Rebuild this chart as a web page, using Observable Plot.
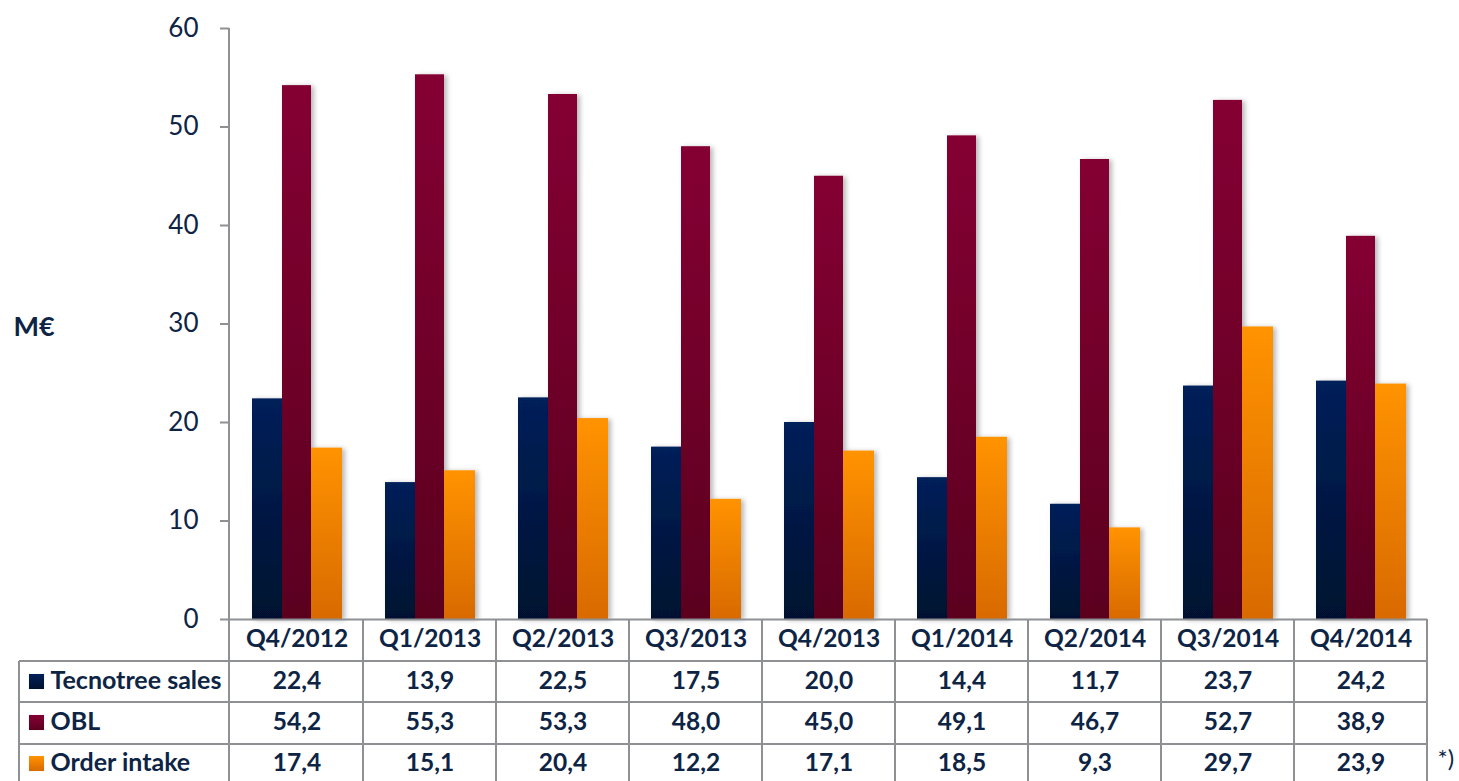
<!DOCTYPE html>
<html><head><meta charset="utf-8">
<script src="https://cdn.jsdelivr.net/npm/d3@7"></script>
<script src="https://cdn.jsdelivr.net/npm/@observablehq/plot@0.6"></script>
<style>body{margin:0;background:#fff;} svg{display:block}</style>
</head><body><div id="chart"></div>
<script>
const quarters = ["Q4/2012","Q1/2013","Q2/2013","Q3/2013","Q4/2013","Q1/2014","Q2/2014","Q3/2014","Q4/2014"];
const series = ["Tecnotree sales","OBL","Order intake"];
const sales  = [22.4,13.9,22.5,17.5,20.0,14.4,11.7,23.7,24.2];
const obl    = [54.2,55.3,53.3,48.0,45.0,49.1,46.7,52.7,38.9];
const orders = [17.4,15.1,20.4,12.2,17.1,18.5,9.3,29.7,23.9];
const yTicks = [0,10,20,30,40,50,60];
const unitLabel = "M€";
const footnote = "*)";

const values = [sales, obl, orders];
const gradIds = ["gNavy","gWine","gOrange"];
const gradStops = [["#00205a","#00112f"],["#850033","#5a001f"],["#ff9300","#d86a00"]];
const rows = series.map((s,i)=>quarters.map((q,j)=>({quarter:q, series:s, value:values[i][j]})));
const fmt = v => v.toFixed(1).replace(".", ",");

const W = 1459, H = 781;
const textColor = "#0e2445";
const lineColor = "#8e9094";
const font = "Lato, 'Open Sans', sans-serif";
const insets = [[22,81],[52,52],[81,21]];
const headerDy = 27;
const rowDy = [69, 110, 151];
const squareDy = [62, 103, 144];
const rowLines = [661, 702, 744];
const tableLeft = 19;
const tableFont = 24.5;

const marks = [];
series.forEach((s,i)=>{
  marks.push(Plot.barY(rows[i], {x:"quarter", y:"value", fill:`url(#${gradIds[i]})`,
    insetLeft: insets[i][0], insetRight: insets[i][1]}));
});
marks.push(Plot.axisY(yTicks, {tickSize: 9, tickPadding: 22, fontSize: 26, label: null, tickFormat: d=>d}));
marks.push(Plot.ruleY([0], {stroke: lineColor, strokeWidth: 2}));
marks.push(Plot.text(quarters, {x: d=>d, text: d=>d, frameAnchor:"bottom", dy: headerDy,
  fontWeight:"bold", fontSize: tableFont, fill: textColor}));
series.forEach((s,i)=>{
  marks.push(Plot.text(rows[i], {x:"quarter", text: d=>fmt(d.value), frameAnchor:"bottom", dy: rowDy[i],
    fontWeight:"bold", fontSize: tableFont, fill: textColor}));
  marks.push(Plot.text([s], {text: d=>d, frameAnchor:"bottom-left", dx: -179, dy: rowDy[i],
    textAnchor:"start", fontWeight:"bold", fontSize: 25, fill: textColor}));
  marks.push(Plot.dot([s], {frameAnchor:"bottom-left", dx: -193, dy: squareDy[i], symbol:"square", r: 8.5,
    fill:`url(#${gradIds[i]})`}));
});
marks.push(Plot.text([unitLabel], {text: d=>d, frameAnchor:"left", dx:-216, dy: 3, textAnchor:"start",
  fontWeight:"bold", fontSize: 27, fill: textColor}));
marks.push(Plot.text([footnote], {text: d=>d, frameAnchor:"bottom-right", dx: 10, dy: 147, textAnchor:"start",
  fontSize: 24, fill: textColor}));

const plot = Plot.plot({
  width: W, height: H,
  marginLeft: 229, marginRight: 32, marginTop: 28, marginBottom: 162,
  style: {fontFamily: font, fontSize: "25px", color: textColor, background: "#fff", overflow: "visible"},
  x: {domain: quarters, padding: 0, axis: null},
  y: {domain: [0, 60]},
  marks
});

const svg = d3.select(plot);
const defs = svg.insert("defs", ":first-child");
gradIds.forEach((id,i)=>{
  const g = defs.append("linearGradient").attr("id", id).attr("x1",0).attr("y1",0).attr("x2",0).attr("y2",1);
  g.append("stop").attr("offset","0%").attr("stop-color", gradStops[i][0]);
  g.append("stop").attr("offset","100%").attr("stop-color", gradStops[i][1]);
});
const f = defs.append("filter").attr("id","shadow").attr("x","-20%").attr("y","-5%").attr("width","150%").attr("height","115%");
f.append("feDropShadow").attr("dx",3).attr("dy",1).attr("stdDeviation",2.5).attr("flood-color","#000").attr("flood-opacity",0.28);
svg.selectAll('g[aria-label="bar"]').attr("filter","url(#shadow)");

// gray tick lines
svg.selectAll('g[aria-label="y-axis tick"]').attr("stroke", lineColor).attr("stroke-width", 2);

// table grid and axis line from scales
const xs = plot.scale("x"), ys = plot.scale("y");
const x0 = xs.range[0], x1 = xs.range[1];
const yb = ys.apply(0), yt = ys.apply(60);
const lines = svg.append("g").attr("stroke", lineColor).attr("stroke-width", 2).attr("fill","none");
lines.append("line").attr("x1", x0).attr("x2", x0).attr("y1", yt).attr("y2", H);
quarters.slice(1).forEach(q=>{
  const xx = xs.apply(q);
  lines.append("line").attr("x1", xx).attr("x2", xx).attr("y1", yb).attr("y2", H);
});
lines.append("line").attr("x1", x1).attr("x2", x1).attr("y1", yb).attr("y2", H);
lines.append("line").attr("x1", tableLeft).attr("x2", tableLeft).attr("y1", rowLines[0]).attr("y2", H);
rowLines.forEach(y=>{
  lines.append("line").attr("x1", tableLeft).attr("x2", x1).attr("y1", y).attr("y2", y);
});

document.getElementById("chart").appendChild(plot);
</script>
</body></html>
